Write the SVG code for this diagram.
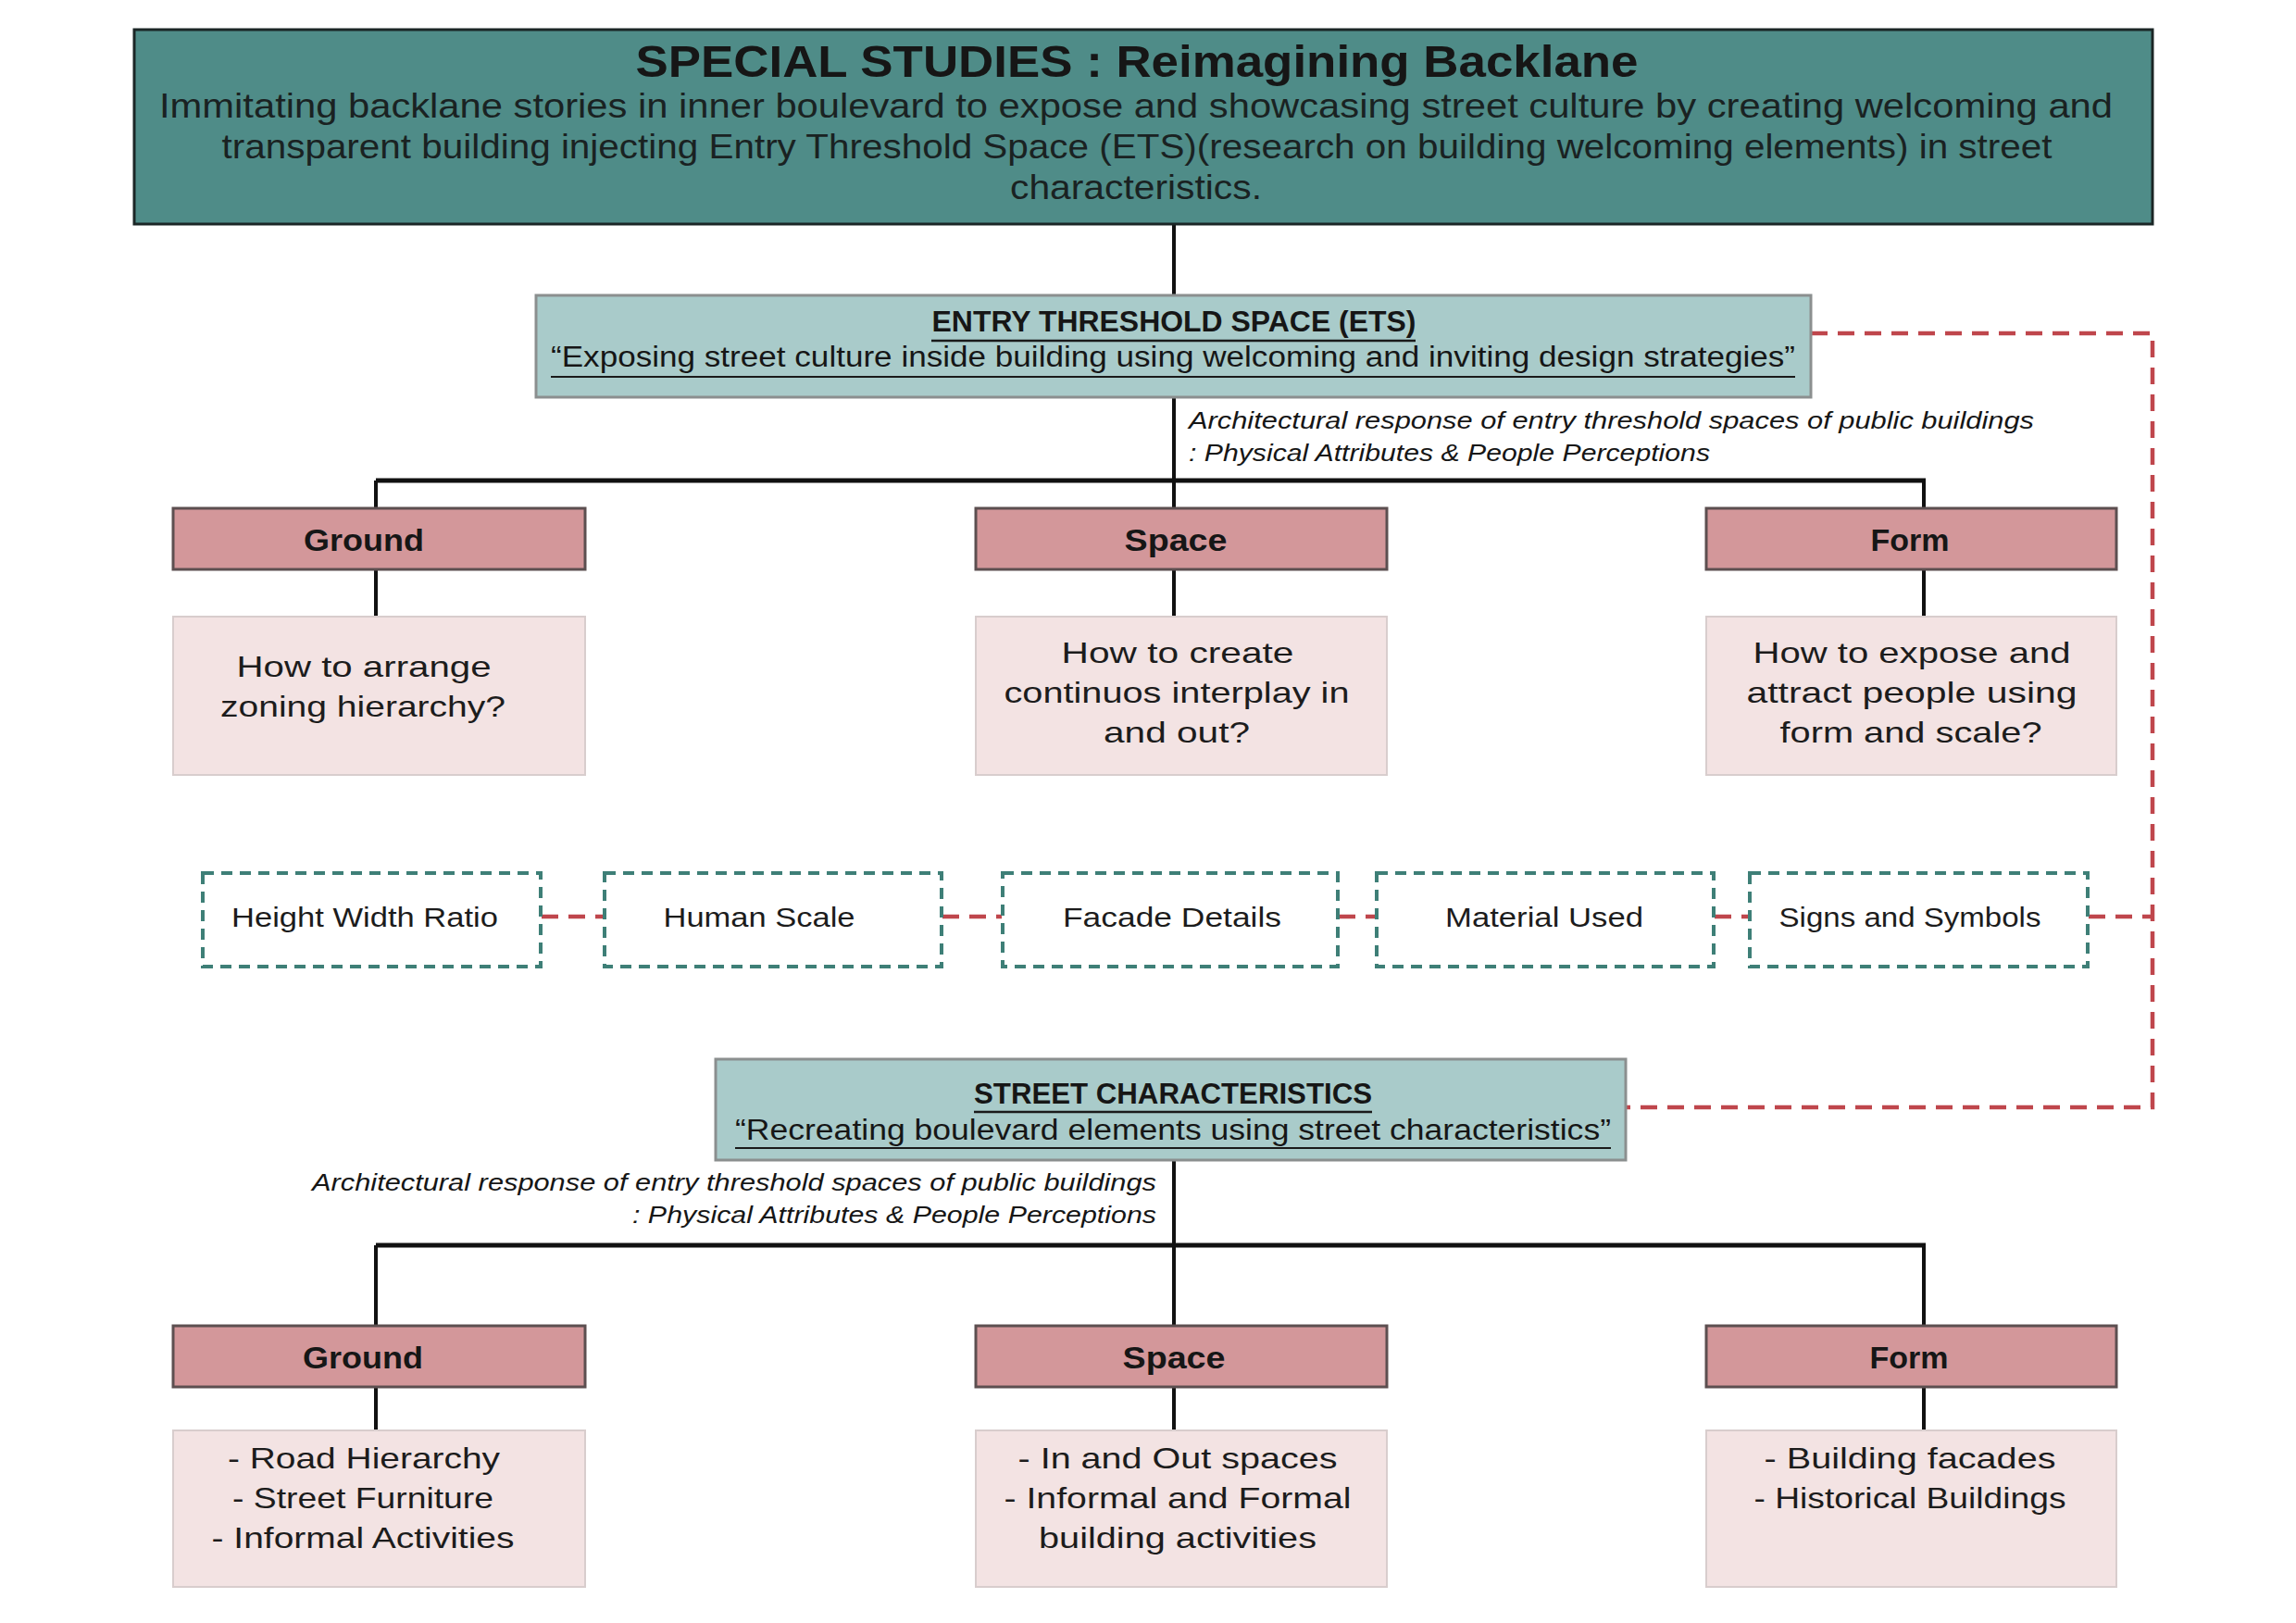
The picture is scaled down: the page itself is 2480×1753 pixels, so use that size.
<svg xmlns="http://www.w3.org/2000/svg" width="2480" height="1753" viewBox="0 0 2480 1753">
<style>
text{font-family:"Liberation Sans",Arial,sans-serif;fill:#161616}
.t-title{font-size:48px;font-weight:bold;text-anchor:middle}
.t-body{font-size:36px;text-anchor:middle;fill:#1a2222}
.t-head{font-size:32px;font-weight:bold;text-anchor:middle}
.t-sub{font-size:31px;text-anchor:middle}
.t-ital{font-size:26px;font-style:italic}
.t-cat{font-size:34px;font-weight:bold;text-anchor:middle}
.t-q{font-size:32px;text-anchor:middle;fill:#1c1c1c}
.t-tag{font-size:30px;text-anchor:middle;fill:#1c1c1c}
.box-title{fill:#4f8c88;stroke:#1b2626;stroke-width:3}
.box-sec{fill:#a9cbca;stroke:#8b8f8f;stroke-width:3}
.box-cat{fill:#d3979a;stroke:#5c4f50;stroke-width:3}
.box-q{fill:#f3e3e3;stroke:#d8cdcd;stroke-width:2}
.box-tag{fill:#ffffff;stroke:#3e7f77;stroke-width:4;stroke-dasharray:12 8}
.ul{stroke:#1a1a1a;stroke-width:2.5}
.conn{stroke:#111;stroke-width:4;fill:none}
.bar{stroke:#111;stroke-width:5;fill:none}
.red{stroke:#bf464c;stroke-width:4.5;fill:none;stroke-dasharray:18 11}
</style>

<g id="connectors">
  <line class="conn" x1="1268" y1="242" x2="1268" y2="319"/>
  <line class="conn" x1="1268" y1="429" x2="1268" y2="519"/>
  <line class="bar" x1="406" y1="519" x2="2080" y2="519"/>
  <line class="conn" x1="406" y1="519" x2="406" y2="549"/>
  <line class="conn" x1="1268" y1="519" x2="1268" y2="549"/>
  <line class="conn" x1="2078" y1="519" x2="2078" y2="549"/>
  <line class="conn" x1="406" y1="615" x2="406" y2="666"/>
  <line class="conn" x1="1268" y1="615" x2="1268" y2="666"/>
  <line class="conn" x1="2078" y1="615" x2="2078" y2="666"/>
  <path class="red" d="M1956 360 H2325 V1196 H1756"/>
  <line class="red" x1="585" y1="990" x2="652" y2="990"/>
  <line class="red" x1="1018" y1="990" x2="1082" y2="990"/>
  <line class="red" x1="1446" y1="990" x2="1486" y2="990"/>
  <line class="red" x1="1852" y1="990" x2="1889" y2="990"/>
  <line class="red" x1="2256" y1="990" x2="2325" y2="990"/>
  <line class="conn" x1="1268" y1="1253" x2="1268" y2="1345"/>
  <line class="bar" x1="406" y1="1345" x2="2080" y2="1345"/>
  <line class="conn" x1="406" y1="1345" x2="406" y2="1432"/>
  <line class="conn" x1="1268" y1="1345" x2="1268" y2="1432"/>
  <line class="conn" x1="2078" y1="1345" x2="2078" y2="1432"/>
  <line class="conn" x1="406" y1="1498" x2="406" y2="1545"/>
  <line class="conn" x1="1268" y1="1498" x2="1268" y2="1545"/>
  <line class="conn" x1="2078" y1="1498" x2="2078" y2="1545"/>
</g>

<g id="title">
  <rect class="box-title" x="145" y="32" width="2180" height="210"/>
  <text class="t-title" x="1228" y="83" textLength="1083" lengthAdjust="spacingAndGlyphs">SPECIAL STUDIES : Reimagining Backlane</text>
  <text class="t-body" x="1227" y="127" textLength="2110" lengthAdjust="spacingAndGlyphs">Immitating backlane stories in inner boulevard to expose and showcasing street culture by creating welcoming and</text>
  <text class="t-body" x="1228" y="171" textLength="1977" lengthAdjust="spacingAndGlyphs">transparent building injecting Entry Threshold Space (ETS)(research on building welcoming elements) in street</text>
  <text class="t-body" x="1227" y="215" textLength="272" lengthAdjust="spacingAndGlyphs">characteristics.</text>
</g>

<g id="ets">
  <rect class="box-sec" x="579" y="319" width="1377" height="110"/>
  <text class="t-head" x="1268" y="358" textLength="523" lengthAdjust="spacingAndGlyphs">ENTRY THRESHOLD SPACE (ETS)</text>
  <line class="ul" x1="1006" y1="368" x2="1529" y2="368"/>
  <text class="t-sub" x="1267" y="396" textLength="1344" lengthAdjust="spacingAndGlyphs">“Exposing street culture inside building using welcoming and inviting design strategies”</text>
  <line class="ul" x1="595" y1="407" x2="1939" y2="407" style="stroke-width:2"/>
</g>

<g id="ets-note">
  <text class="t-ital" x="1284" y="463" textLength="913" lengthAdjust="spacingAndGlyphs">Architectural response of entry threshold spaces of public buildings</text>
  <text class="t-ital" x="1284" y="498" textLength="563" lengthAdjust="spacingAndGlyphs">: Physical Attributes &amp; People Perceptions</text>
</g>

<g id="ground-1">
  <rect class="box-cat" x="187" y="549" width="445" height="66"/>
  <text class="t-cat" x="393" y="595" textLength="130" lengthAdjust="spacingAndGlyphs">Ground</text>
</g>
<g id="space-1">
  <rect class="box-cat" x="1054" y="549" width="444" height="66"/>
  <text class="t-cat" x="1270" y="595" textLength="111" lengthAdjust="spacingAndGlyphs">Space</text>
</g>
<g id="form-1">
  <rect class="box-cat" x="1843" y="549" width="443" height="66"/>
  <text class="t-cat" x="2063" y="595" textLength="85" lengthAdjust="spacingAndGlyphs">Form</text>
</g>

<g id="ground-q">
  <rect class="box-q" x="187" y="666" width="445" height="171"/>
  <text class="t-q" x="393" y="731" textLength="275" lengthAdjust="spacingAndGlyphs">How to arrange</text>
  <text class="t-q" x="392" y="774" textLength="308" lengthAdjust="spacingAndGlyphs">zoning hierarchy?</text>
</g>
<g id="space-q">
  <rect class="box-q" x="1054" y="666" width="444" height="171"/>
  <text class="t-q" x="1272" y="716" textLength="251" lengthAdjust="spacingAndGlyphs">How to create</text>
  <text class="t-q" x="1271" y="759" textLength="373" lengthAdjust="spacingAndGlyphs">continuos interplay in</text>
  <text class="t-q" x="1271" y="802" textLength="158" lengthAdjust="spacingAndGlyphs">and out?</text>
</g>
<g id="form-q">
  <rect class="box-q" x="1843" y="666" width="443" height="171"/>
  <text class="t-q" x="2065" y="716" textLength="343" lengthAdjust="spacingAndGlyphs">How to expose and</text>
  <text class="t-q" x="2065" y="759" textLength="357" lengthAdjust="spacingAndGlyphs">attract people using</text>
  <text class="t-q" x="2064" y="802" textLength="283" lengthAdjust="spacingAndGlyphs">form and scale?</text>
</g>

<g id="tag-height">
  <rect class="box-tag" x="219" y="943" width="365" height="101"/>
  <text class="t-tag" x="394" y="1001" textLength="288" lengthAdjust="spacingAndGlyphs">Height Width Ratio</text>
</g>
<g id="tag-human">
  <rect class="box-tag" x="653" y="943" width="364" height="101"/>
  <text class="t-tag" x="820" y="1001" textLength="207" lengthAdjust="spacingAndGlyphs">Human Scale</text>
</g>
<g id="tag-facade">
  <rect class="box-tag" x="1083" y="943" width="362" height="101"/>
  <text class="t-tag" x="1266" y="1001" textLength="236" lengthAdjust="spacingAndGlyphs">Facade Details</text>
</g>
<g id="tag-material">
  <rect class="box-tag" x="1487" y="943" width="364" height="101"/>
  <text class="t-tag" x="1668" y="1001" textLength="214" lengthAdjust="spacingAndGlyphs">Material Used</text>
</g>
<g id="tag-signs">
  <rect class="box-tag" x="1890" y="943" width="365" height="101"/>
  <text class="t-tag" x="2063" y="1001" textLength="283" lengthAdjust="spacingAndGlyphs">Signs and Symbols</text>
</g>

<g id="street">
  <rect class="box-sec" x="773" y="1144" width="983" height="109"/>
  <text class="t-head" x="1267" y="1192" textLength="430" lengthAdjust="spacingAndGlyphs">STREET CHARACTERISTICS</text>
  <line class="ul" x1="1052" y1="1201" x2="1482" y2="1201"/>
  <text class="t-sub" x="1267" y="1231" textLength="946" lengthAdjust="spacingAndGlyphs">“Recreating boulevard elements using street characteristics”</text>
  <line class="ul" x1="794" y1="1240" x2="1740" y2="1240" style="stroke-width:2"/>
</g>

<g id="street-note">
  <text class="t-ital" x="1249" y="1286" text-anchor="end" textLength="912" lengthAdjust="spacingAndGlyphs">Architectural response of entry threshold spaces of public buildings</text>
  <text class="t-ital" x="1249" y="1321" text-anchor="end" textLength="566" lengthAdjust="spacingAndGlyphs">: Physical Attributes &amp; People Perceptions</text>
</g>

<g id="ground-2">
  <rect class="box-cat" x="187" y="1432" width="445" height="66"/>
  <text class="t-cat" x="392" y="1478" textLength="130" lengthAdjust="spacingAndGlyphs">Ground</text>
</g>
<g id="space-2">
  <rect class="box-cat" x="1054" y="1432" width="444" height="66"/>
  <text class="t-cat" x="1268" y="1478" textLength="111" lengthAdjust="spacingAndGlyphs">Space</text>
</g>
<g id="form-2">
  <rect class="box-cat" x="1843" y="1432" width="443" height="66"/>
  <text class="t-cat" x="2062" y="1478" textLength="85" lengthAdjust="spacingAndGlyphs">Form</text>
</g>

<g id="ground-list">
  <rect class="box-q" x="187" y="1545" width="445" height="169"/>
  <text class="t-q" x="393" y="1586" textLength="294" lengthAdjust="spacingAndGlyphs">- Road Hierarchy</text>
  <text class="t-q" x="392" y="1629" textLength="282" lengthAdjust="spacingAndGlyphs">- Street Furniture</text>
  <text class="t-q" x="392" y="1672" textLength="327" lengthAdjust="spacingAndGlyphs">- Informal Activities</text>
</g>
<g id="space-list">
  <rect class="box-q" x="1054" y="1545" width="444" height="169"/>
  <text class="t-q" x="1272" y="1586" textLength="345" lengthAdjust="spacingAndGlyphs">- In and Out spaces</text>
  <text class="t-q" x="1272" y="1629" textLength="375" lengthAdjust="spacingAndGlyphs">- Informal and Formal</text>
  <text class="t-q" x="1272" y="1672" textLength="300" lengthAdjust="spacingAndGlyphs">building activities</text>
</g>
<g id="form-list">
  <rect class="box-q" x="1843" y="1545" width="443" height="169"/>
  <text class="t-q" x="2063" y="1586" textLength="315" lengthAdjust="spacingAndGlyphs">- Building facades</text>
  <text class="t-q" x="2063" y="1629" textLength="337" lengthAdjust="spacingAndGlyphs">- Historical Buildings</text>
</g>
</svg>
